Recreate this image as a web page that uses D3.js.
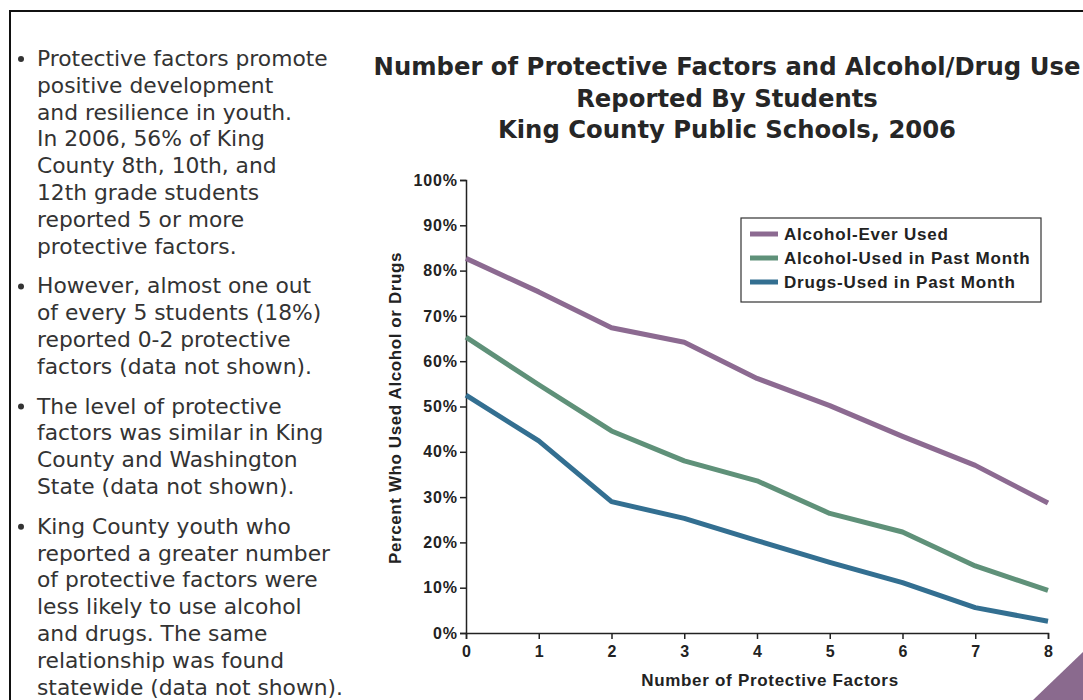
<!DOCTYPE html>
<html>
<head>
<meta charset="utf-8">
<script src="https://cdn.jsdelivr.net/npm/d3@7/dist/d3.min.js"></script>
<style>
  html, body { margin: 0; padding: 0; background: #fff; }
  svg { display: block; }
</style>
</head>
<body>
<svg id="chart" width="1083" height="700"></svg>
<script>
// Number of protective factors (x) and percent reporting use (y)
const factors = [0, 1, 2, 3, 4, 5, 6, 7, 8];
const alcoholEver = [82.7, 75.3, 67.4, 64.2, 56.2, 50.2, 43.4, 37.0, 28.7];
const alcoholMonth = [65.3, 54.8, 44.6, 38.0, 33.6, 26.4, 22.3, 14.8, 9.4];
const drugsMonth = [52.5, 42.4, 29.0, 25.3, 20.4, 15.6, 11.1, 5.6, 2.6];
const seriesNames = ["Alcohol-Ever Used", "Alcohol-Used in Past Month", "Drugs-Used in Past Month"];
const seriesColors = ["#8c6a91", "#5f9179", "#336f91"];
const yTicks = [0, 10, 20, 30, 40, 50, 60, 70, 80, 90, 100];

const titleLines = [
  "Number of Protective Factors and Alcohol/Drug Use",
  "Reported By Students",
  "King County Public Schools, 2006"
];
const bullets = [
  ["Protective factors promote", "positive development", "and resilience in youth.",
   "In 2006, 56% of King", "County 8th, 10th, and", "12th grade students",
   "reported 5 or more", "protective factors."],
  ["However, almost one out", "of every 5 students (18%)", "reported 0-2 protective",
   "factors (data not shown)."],
  ["The level of protective", "factors was similar in King", "County and Washington",
   "State (data not shown)."],
  ["King County youth who", "reported a greater number", "of protective factors were",
   "less likely to use alcohol", "and drugs. The same", "relationship was found",
   "statewide (data not shown)."]
];

const svg = d3.select("#chart");

// page frame
svg.append("line").attr("x1", 9).attr("x2", 1083).attr("y1", 11).attr("y2", 11)
  .attr("stroke", "#111").attr("stroke-width", 2);
svg.append("line").attr("x1", 10).attr("x2", 10).attr("y1", 10).attr("y2", 700)
  .attr("stroke", "#111").attr("stroke-width", 2);

// corner accent
svg.append("polygon").attr("points", "1033,700 1083,652 1083,700").attr("fill", "#8a6a8e");

// bullet text
const lineH = 26.8;
let yPos = 66;
const textG = svg.append("g").attr("font-family", "'DejaVu Sans', sans-serif")
  .attr("font-size", 21.8).attr("fill", "#333");
bullets.forEach((para, i) => {
  textG.append("circle").attr("cx", 21).attr("cy", yPos - 7).attr("r", 3).attr("fill", "#333");
  para.forEach((ln, j) => {
    textG.append("text").attr("x", 37).attr("y", yPos + j * lineH).text(ln);
  });
  yPos += para.length * lineH + 13;
});

// title
const titleG = svg.append("g").attr("font-family", "'DejaVu Sans', sans-serif")
  .attr("font-size", 24.3).attr("font-weight", "bold").attr("fill", "#262626")
  .attr("text-anchor", "middle");
titleLines.forEach((t, i) => {
  titleG.append("text").attr("x", 727).attr("y", 75 + i * 31.5).text(t);
});

// plot area
const x = d3.scaleLinear().domain([0, 8]).range([466, 1048]);
const y = d3.scaleLinear().domain([0, 100]).range([633, 180]);

const axisFont = "'Liberation Sans', Arial, sans-serif";

const yAxis = svg.append("g").attr("transform", `translate(${x(0)},0)`)
  .call(d3.axisLeft(y).tickValues(yTicks).tickFormat(d => d + "%").tickSize(6).tickPadding(2));
yAxis.select(".domain").attr("stroke", "#222").attr("stroke-width", 1.5);
yAxis.selectAll(".tick line").attr("stroke", "#222").attr("stroke-width", 1.5);
yAxis.selectAll(".tick text").attr("font-family", axisFont).attr("font-weight", "bold")
  .attr("font-size", 16).attr("letter-spacing", 0.9).attr("fill", "#222");

const xAxis = svg.append("g").attr("transform", `translate(0,${y(0)})`)
  .call(d3.axisBottom(x).tickValues(factors).tickFormat(d3.format("d")).tickSize(6).tickPadding(7));
xAxis.select(".domain").attr("stroke", "#222").attr("stroke-width", 1.5);
xAxis.selectAll(".tick line").attr("stroke", "#222").attr("stroke-width", 1.5);
xAxis.selectAll(".tick text").attr("font-family", axisFont).attr("font-weight", "bold")
  .attr("font-size", 16).attr("fill", "#222");

svg.append("text").attr("x", 770).attr("y", 686).attr("text-anchor", "middle")
  .attr("font-family", axisFont).attr("font-weight", "bold").attr("font-size", 17)
  .attr("letter-spacing", 0.7).attr("fill", "#222").text("Number of Protective Factors");
svg.append("text").attr("transform", "translate(401,408) rotate(-90)").attr("text-anchor", "middle")
  .attr("font-family", axisFont).attr("font-weight", "bold").attr("font-size", 17)
  .attr("letter-spacing", 0.6).attr("fill", "#222").text("Percent Who Used Alcohol or Drugs");

// series lines
const seriesData = [alcoholEver, alcoholMonth, drugsMonth];
const line = d3.line().x((d, i) => x(factors[i])).y(d => y(d));
seriesData.forEach((vals, i) => {
  svg.append("path").datum(vals).attr("d", line).attr("fill", "none")
    .attr("stroke", seriesColors[i]).attr("stroke-width", 5)
    .attr("stroke-linejoin", "round");
});

// legend
const lg = svg.append("g").attr("transform", "translate(741,218)");
lg.append("rect").attr("width", 300).attr("height", 84).attr("fill", "#fff")
  .attr("stroke", "#333").attr("stroke-width", 1.2);
seriesNames.forEach((n, i) => {
  const ly = 16 + i * 24;
  lg.append("line").attr("x1", 9).attr("x2", 37).attr("y1", ly).attr("y2", ly)
    .attr("stroke", seriesColors[i]).attr("stroke-width", 5);
  lg.append("text").attr("x", 43).attr("y", ly + 6).attr("font-family", axisFont)
    .attr("font-weight", "bold").attr("font-size", 17).attr("letter-spacing", 0.8)
    .attr("fill", "#222").text(n);
});
</script>
</body>
</html>
